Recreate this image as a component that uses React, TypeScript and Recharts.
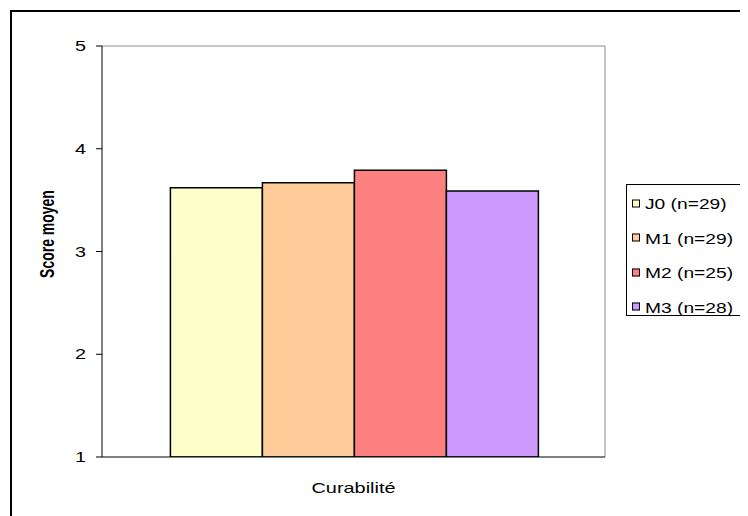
import { Bar, BarChart, CartesianGrid, XAxis, YAxis } from "recharts";

const categories = ["Curabilité"];
const seriesKeys = ["J0", "M1", "M2", "M3"];
const seriesLabels = ["J0 (n=29)", "M1 (n=29)", "M2 (n=25)", "M3 (n=28)"];
const seriesValues = [[3.62], [3.67], [3.79], [3.59]];
const yTicks = [1, 2, 3, 4, 5];

const colors = ["#FFFFCC", "#FFCC99", "#FF8080", "#CC99FF"];
const font = "'Liberation Sans', Arial, sans-serif";

const data = categories.map((cat, i) => {
  const row: Record<string, string | number> = { cat };
  seriesKeys.forEach((k, s) => {
    row[k] = seriesValues[s][i];
  });
  return row;
});

function YTick({ x, y, payload }: any) {
  return (
    <text
      x={x}
      y={y}
      dy={5}
      textAnchor="end"
      fontSize={15}
      fontFamily={font}
      fill="#000"
      textLength={11 * String(payload.value).length}
      lengthAdjust="spacingAndGlyphs"
    >
      {payload.value}
    </text>
  );
}

function XTick({ x, y, payload }: any) {
  return (
    <text
      x={x}
      y={y}
      dy={36}
      textAnchor="middle"
      fontSize={15}
      fontFamily={font}
      fill="#000"
      textLength={84}
      lengthAdjust="spacingAndGlyphs"
    >
      {payload.value}
    </text>
  );
}

export default function App() {
  return (
    <div style={{ position: "relative", width: 740, height: 508, overflow: "hidden", background: "#fff" }}>
      <div
        style={{
          position: "absolute",
          left: 2,
          top: 2,
          width: 800,
          height: 600,
          border: "2px solid #000"
        }}
      />
      <div style={{ position: "absolute", left: 0, top: 0 }}>
        <BarChart
          width={740}
          height={508}
          data={data}
          margin={{ top: 38, right: 143, left: 0, bottom: 0 }}
          barCategoryGap="13.6%"
          barGap={0}
        >
          <CartesianGrid
            stroke="#8c8c8c"
            horizontalCoordinatesGenerator={({ offset }: any) => [offset.top]}
            verticalCoordinatesGenerator={({ offset }: any) => [offset.left + offset.width]}
          />
          <XAxis
            dataKey="cat"
            height={59}
            axisLine={{ stroke: "#000" }}
            tickLine={false}
            tickSize={0}
            tickMargin={0}
            tick={<XTick />}
          />
          <YAxis
            width={94}
            domain={[1, 5]}
            ticks={yTicks}
            interval={0}
            allowDataOverflow
            axisLine={{ stroke: "#000" }}
            tickLine={{ stroke: "#000" }}
            tickSize={6}
            tickMargin={10}
            tick={<YTick />}
            label={{
              content: () => (
                <text
                  x={0}
                  y={0}
                  transform="translate(40 226) rotate(-90) scale(1 1.4)"
                  textAnchor="middle"
                  dominantBaseline="central"
                  fontSize={14}
                  fontWeight="bold"
                  fontFamily={font}
                  fill="#000"
                >
                  Score moyen
                </text>
              )
            }}
          />
          {seriesKeys.map((k, i) => (
            <Bar
              key={k}
              dataKey={k}
              name={seriesLabels[i]}
              fill={colors[i]}
              stroke="#000"
              strokeWidth={1.5}
              isAnimationActive={false}
            />
          ))}
        </BarChart>
      </div>
      <div
        style={{
          position: "absolute",
          left: 618,
          top: 176,
          width: 200,
          height: 132,
          border: "1px solid #000",
          boxSizing: "border-box",
          fontFamily: font,
          fontSize: 15
        }}
      >
        {seriesLabels.map((label, i) => (
          <div
            key={label}
            style={{
              position: "absolute",
              left: 5,
              top: 18 + i * 34.5,
              transform: "translateY(-50%)",
              display: "flex",
              alignItems: "center",
              whiteSpace: "nowrap"
            }}
          >
            <span
              style={{
                display: "inline-block",
                width: 6,
                height: 6,
                background: colors[i],
                border: "1.5px solid #000"
              }}
            />
            <span
              style={{
                display: "inline-block",
                marginLeft: 5,
                transform: "scaleX(1.28)",
                transformOrigin: "left center"
              }}
            >
              {label}
            </span>
          </div>
        ))}
      </div>
    </div>
  );
}
